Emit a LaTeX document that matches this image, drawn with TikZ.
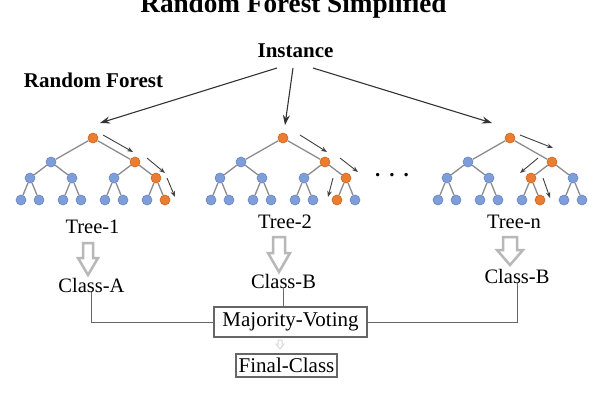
\documentclass[tikz,border=0pt]{standalone}
\usepackage{fontspec}
\setmainfont{Liberation Serif}
\usetikzlibrary{arrows.meta,calc}
\definecolor{bfill}{HTML}{7F9ED9}
\definecolor{bdraw}{HTML}{6585C4}
\definecolor{ofill}{HTML}{EA7D32}
\definecolor{odraw}{HTML}{CC6620}
\definecolor{edgegray}{HTML}{8C8C8C}
\definecolor{linegray}{HTML}{666666}
\definecolor{hollowgray}{HTML}{B8B8B8}
\tikzset{
  bnode/.style={circle,inner sep=0pt,minimum size=10pt,fill=bfill,draw=bdraw,line width=0.6pt},
  onode/.style={circle,inner sep=0pt,minimum size=10pt,fill=ofill,draw=odraw,line width=0.6pt},
  tedge/.style={draw=edgegray,line width=1.3pt},
  patharrow/.style={draw=black!75,line width=0.9pt,-{Stealth[length=6pt,width=4.5pt]}},
  instarrow/.style={draw=black!80,line width=1.1pt,-{Stealth[length=10pt,width=7pt]}},
  lbl/.style={anchor=base,inner sep=0pt,font=\fontsize{20.5}{20.5}\selectfont},
  boldlbl/.style={anchor=base,inner sep=0pt,font=\fontsize{21}{21}\selectfont\bfseries},
  boxlbl/.style={draw=linegray,line width=1.2pt,inner sep=0pt,font=\fontsize{21}{21}\selectfont},
  conn/.style={draw=linegray,line width=1pt},
  hollow/.style={draw=hollowgray,line width=2.5pt,fill=white,line join=miter}
}
\newcommand\mktree[5]{%
  \foreach \i/\dx/\yy in {1/0/138,2/-42/162,3/42/162,4/-63/178,5/-21/178,6/21/178,7/63/178,
      8/-72/200,9/-54/200,10/-30/200,11/-12/200,12/12/200,13/30/200,14/54/200,15/72/200}{
    \pgfmathtruncatemacro\isor{(\i==1)||(\i==#3)||(\i==#4)||(\i==#5)}
    \ifnum\isor=1
      \node[onode] (#1\i) at ({#2+\dx},\yy) {};
    \else
      \node[bnode] (#1\i) at ({#2+\dx},\yy) {};
    \fi
  }
  \foreach \i in {2,...,15}{
    \pgfmathtruncatemacro\pidx{int(\i/2)}
    \draw[tedge] (#1\pidx) -- (#1\i);
  }
}
\newcommand\hollowarrow[6]{% x, ytop, yhead, ytip, halfshaft, halfhead
  \draw[hollow] ({#1-#5},#2) -- ({#1+#5},#2) -- ({#1+#5},#3) -- ({#1+#6},#3)
     -- (#1,#4) -- ({#1-#6},#3) -- ({#1-#5},#3) -- cycle;
}
\begin{document}
\begin{tikzpicture}[x=1pt,y=-1pt]
\useasboundingbox[fill=white] (0,0) rectangle (600,400);

% titles
\node[anchor=base,inner sep=0pt,font=\fontsize{27.2}{27.2}\selectfont\bfseries] (title) at (293.5,12) {Random Forest Simplified};
\node[boldlbl] (inst) at (295.5,57) {Instance};
\node[boldlbl] (rf) at (93.5,87) {Random Forest};

% trees
\mktree{a}{93}{3}{7}{15}
\mktree{b}{283}{3}{7}{14}
\mktree{c}{510}{3}{6}{13}

% instance arrows
\coordinate (s1) at (277,68);
\coordinate (s2) at (293,68);
\coordinate (s3) at (313,68);
\coordinate (e1) at (100,123);
\coordinate (e2) at (285,125);
\coordinate (e3) at (492,123);
\draw[instarrow] (s1) -- (e1);
\draw[instarrow] (s2) -- (e2);
\draw[instarrow] (s3) -- (e3);

% path arrows
\draw[patharrow] (103,135) -- (133,152);
\draw[patharrow] (147,158) -- (165,173);
\draw[patharrow] (167,178) -- (175,197);
\draw[patharrow] (300,135) -- (327,152);
\draw[patharrow] (340,158) -- (358,172);
\draw[patharrow] (333,178) -- (328,197);
\draw[patharrow] (520,135) -- (553,148);
\draw[patharrow] (538,158) -- (520,173);
\draw[patharrow] (543,178) -- (550,198);

% ellipsis
\node[anchor=base,inner sep=0pt,font=\fontsize{21}{21}\selectfont\bfseries] (dots) at (392,176) {.\hspace{9pt}.\hspace{9pt}.};

% tree labels
\node[lbl] (t1) at (92.5,233) {Tree-1};
\node[lbl] (t2) at (285,228) {Tree-2};
\node[lbl] (tn) at (514,228) {Tree-n};

% hollow arrows
\hollowarrow{88}{243}{258}{275}{5}{10}
\hollowarrow{279}{237}{253}{272}{6}{11}
\hollowarrow{510}{237}{250}{265}{7}{13}

% class labels
\node[lbl] (ca) at (91.5,292) {Class-A};
\node[lbl] (cb) at (283.5,288) {Class-B};
\node[lbl] (cn) at (517,283) {Class-B};

% boxes
\node[boxlbl,minimum width=153pt,minimum height=30pt] (maj) at (290.5,322) {Majority-Voting};
\node[boxlbl,minimum width=101pt,minimum height=23pt] (fin) at (286.5,365.5) {Final-Class};

% connectors
\draw[conn] (ca.south) |- (maj.west);
\draw[conn] (cb.south) -- (cb.south |- maj.north);
\draw[conn] (cn.south) |- (maj.east);

% faint arrow
\draw[draw=black!15,line width=1pt,fill=white] (278,340) -- (282,340) -- (282,344) -- (284,344) -- (280,349) -- (276,344) -- (278,344) -- cycle;
\end{tikzpicture}
\end{document}
